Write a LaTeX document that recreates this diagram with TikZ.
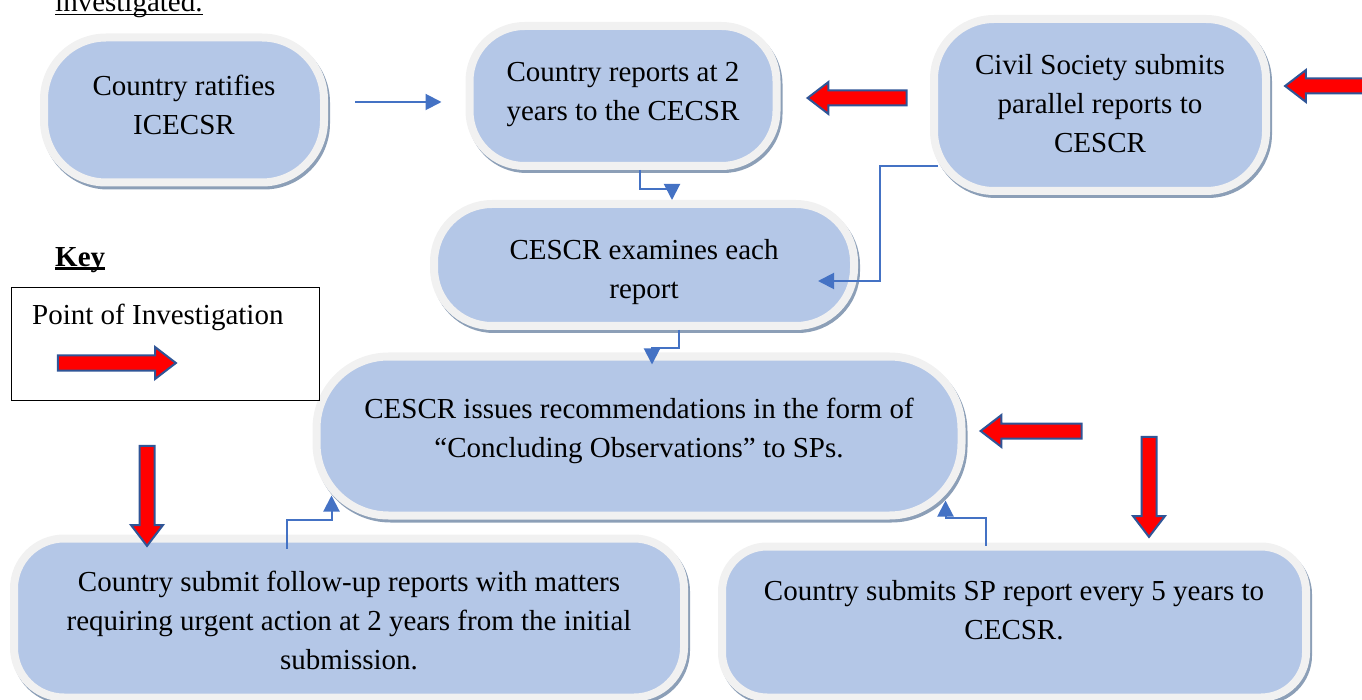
\documentclass[tikz,border=0pt]{standalone}
\usepackage{fontspec}
\setmainfont{Liberation Serif}
\usetikzlibrary{arrows.meta,shapes.arrows}

\definecolor{boxblue}{HTML}{B4C7E7}
\definecolor{boxrim}{HTML}{F1F1F1}
\definecolor{boxshade}{HTML}{8C9FB7}
\definecolor{flowblue}{HTML}{4472C4}
\definecolor{arrowrim}{HTML}{2F5597}

\newcommand{\ulword}[2][1.2pt]{\setbox0\hbox{#2}\rlap{\rule[-3pt]{\wd0}{#1}}\box0}
\newcommand{\lowstrut}[1]{\rule{0pt}{#1}}

\begin{document}
\begin{tikzpicture}[x=1pt,y=-1pt,
    box/.style={shape=rectangle,fill=boxblue,draw=boxrim,line width=8pt,
      align=center,inner sep=0pt,
      font=\fontsize{29}{39}\selectfont,
      preaction={draw=boxshade,fill=boxshade,line width=8pt,
        transform canvas={shift={(2pt,-3pt)}}}},
    flow/.style={draw=flowblue,line width=2pt,-{Triangle[width=16pt,length=16pt]}},
    point/.style={single arrow,fill=red,draw=arrowrim,line width=2pt,
      inner xsep=0pt,inner ysep=6.5pt,minimum width=0pt,
      single arrow head extend=8.5pt,single arrow tip angle=75},
    keytext/.style={inner sep=0pt,font=\fontsize{29}{39}\selectfont}]
    \useasboundingbox (0,0) rectangle (1362,700);

    \node[keytext,anchor=base west] (inv) at (55,12) {\ulword{investigated.}};

    \node[box,minimum width=280pt,minimum height=145pt,rounded corners=62pt,text depth=10pt] (ratify) at (184,110)
      {Country ratifies\\ICECSR};
    \node[box,minimum width=307pt,minimum height=140pt,rounded corners=55pt,text depth=10pt] (report) at (623,96)
      {Country reports at 2\\years to the CECSR};
    \node[box,minimum width=332pt,minimum height=172pt,rounded corners=60pt,text depth=3pt] (civil) at (1100,105)
      {Civil Society submits\\parallel reports to\\CESCR};
    \node[box,minimum width=420pt,minimum height=122pt,rounded corners=58pt] (exam) at (644,265)
      {\lowstrut{34pt}CESCR examines each\\report};
    \node[box,minimum width=645pt,minimum height=159pt,rounded corners=72pt,text depth=16pt] (issue) at (639,436)
      {CESCR issues recommendations in the form of\\``Concluding Observations'' to SPs.};
    \node[box,minimum width=670pt,minimum height=159pt,rounded corners=50pt] (follow) at (349,618)
      {\lowstrut{26pt}Country submit follow-up reports with matters\\requiring urgent action at 2 years from the initial\\submission.};
    \node[box,minimum width=584pt,minimum height=151pt,rounded corners=45pt,text depth=24pt] (every) at (1014,622)
      {Country submits SP report every 5 years to\\CECSR.};

    \node[keytext,anchor=base west] (key) at (55,267) {\ulword[2.5pt]{\bfseries Key}};
    \node[draw,line width=1pt,minimum width=308pt,minimum height=112pt] (keybox) at (165,344) {};
    \node[keytext,anchor=base west] (keylabel) at (32,325) {Point of Investigation};

    \node[point,minimum height=118pt] (pkey) at (112,363) {};
    \node[point,minimum height=99pt,rotate=180] (preport) at (862,98) {};
    \node[point,minimum height=100pt,rotate=180] (pcivil) at (1340,86) {};
    \node[point,minimum height=101pt,rotate=180] (pissue) at (1036,431) {};
    \node[point,minimum height=100pt,rotate=-90] (pfollow) at (147,491) {};
    \node[point,minimum height=100pt,rotate=-90] (pevery) at (1149,482) {};

    \draw[flow] ([shift={(27pt,8pt)}]ratify.east) -- ([shift={(-24pt,-6pt)}]report.west);
    \draw[flow] ([xshift=17pt]report.south) -- ++(0,19) -| ([xshift=28pt]exam.north);
    \draw[flow] ([shift={(8pt,-61pt)}]civil.west) -- ++(-58,0) |- ([shift={(-40pt,-16pt)}]exam.east);
    \draw[flow] ([xshift=35pt]exam.south) -- ++(0,18) -| ([shift={(13pt,-12pt)}]issue.north);
    \draw[flow] ([shift={(-62pt,-14pt)}]follow.north) -- ++(0,-29) -| ([shift={(19pt,24pt)}]issue.south west);
    \draw[flow] ([shift={(-28pt,-3pt)}]every.north) -- ++(0,-28) -| ([shift={(-20pt,19pt)}]issue.south east);
\end{tikzpicture}
\end{document}
